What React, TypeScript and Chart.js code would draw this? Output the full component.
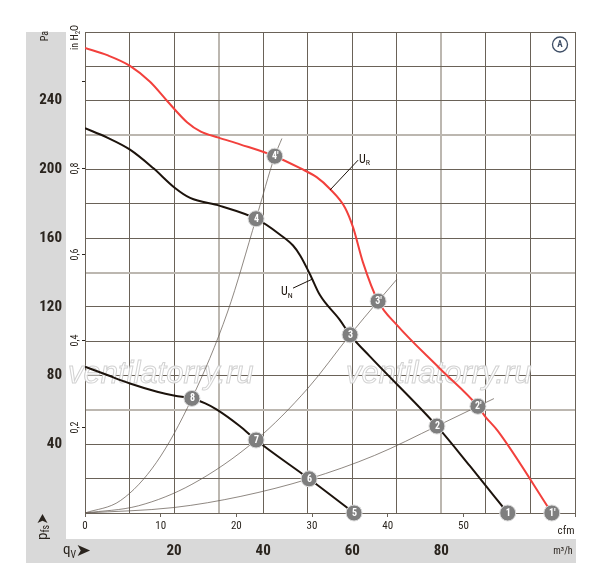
import React, { useEffect, useRef } from "react";
import { Chart, registerables } from "chart.js";

Chart.register(...registerables);

// ---- data (x in m³/h, y in Pa) ----
const UR_X = [0, 5, 10.1, 14.6, 18.4, 22.9, 26, 30, 34.8, 42.6, 48.3, 52, 55.0, 58.4, 60.2, 62.4, 65.8, 70.0, 79.7, 88.2, 89.8, 92.7, 104.8];
const UR_Y = [270.7, 266.5, 260.3, 251, 240, 227.5, 222, 218.5, 214.6, 207.7, 200.7, 195.5, 188.6, 177.6, 166.1, 145.9, 123.3, 109.5, 84, 62.1, 56.3, 47.7, 0];

const UN_X = [0, 5, 10.1, 15.3, 20.2, 23.6, 30.3, 38.4, 43.8, 46.7, 48.3, 50.5, 52.7, 57.2, 59.5, 64.0, 79.0, 86.4, 94.9];
const UN_Y = [224, 218.5, 211.5, 200.8, 189.2, 183.4, 178.8, 171.3, 162, 155.7, 149.9, 139, 127, 112.4, 103.7, 91, 50.6, 27.4, 0];

const LOW_X = [0, 5, 10.1, 16.2, 20.2, 24.0, 27, 29.6, 34.8, 38.4, 50.3, 60.4];
const LOW_Y = [85.2, 80.3, 75.4, 70.6, 68.3, 66.7, 63.8, 60.2, 50.5, 42.5, 19.9, 0];

const SYS1_X = [0, 8, 16, 24.0, 32, 38.4, 42.6, 44.2];
const SYS1_Y = [0, 7.3, 29.3, 66.7, 117, 171.3, 207.7, 218];
const SYS2_X = [0, 12, 24, 38.4, 50, 59.5, 65.8, 70.0];
const SYS2_Y = [0, 4.2, 16.7, 42.5, 72.5, 103.7, 123.3, 136];
const SYS3_X = [0, 20, 35, 50.3, 65, 79.0, 88.2, 91.8];
const SYS3_Y = [0, 3.2, 9.7, 19.9, 33.5, 50.6, 62.1, 66.6];

const MK_X = [94.9, 79.0, 59.5, 38.4, 104.8, 88.2, 65.8, 42.6, 60.4, 50.3, 38.4, 24.0];
const MK_Y = [0, 50.6, 103.7, 171.3, 0, 62.1, 123.3, 207.7, 0, 19.9, 42.5, 66.7];
const MK_L = ["1", "2", "3", "4", "1'", "2'", "3'", "4'", "5", "6", "7", "8"];

const PA_TICKS = [40, 80, 120, 160, 200, 240];
const M3H_TICKS = [20, 40, 60, 80];
const CFM_LABELS = [0, 10, 20, 30, 40, 50];
const INH2O_TICKS = [0.2, 0.4, 0.6, 0.8, 1.0];
const INH2O_LABELS = ["0,2", "0,4", "0,6", "0,8", ""];

const X_MAX = 110;
const Y_MAX = 280;
const CFM_MAX = 110 / 1.699;
const PA_PER_INH2O = 251.3;

const DARK = "#6a6258";
const LIGHT = "#bcb7b0";
const GRAY = "#d9d9d9";
const TXT = "#2a241e";
const RED = "#f2403c";
const BLK = "#1c130c";
const THIN = "#5e554c";
const NARROW = '"Liberation Sans Narrow", "Roboto Condensed", "DejaVu Sans Condensed", Roboto, sans-serif';

const pts = (xs: number[], ys: number[]) => xs.map((x, i) => ({ x, y: ys[i] }));

export default function App() {
  const ref = useRef<HTMLCanvasElement>(null);

  useEffect(() => {
    const canvas = ref.current!;

    const bg = {
      id: "bg",
      beforeDraw(chart: any) {
        const c = chart.ctx;
        const ca = chart.chartArea;
        const xs = chart.scales.x;
        c.save();
        c.fillStyle = "#fff";
        c.fillRect(0, 0, chart.width, chart.height);
        c.fillStyle = GRAY;
        c.fillRect(26, ca.top, ca.right + 1 - 26, xs.bottom - ca.top);
        c.fillStyle = "#fff";
        c.fillRect(66, ca.top, ca.right + 1 - 66, xs.top - ca.top);
        c.restore();
      },
    };

    const watermark = {
      id: "wm",
      beforeDatasetsDraw(chart: any) {
        const c = chart.ctx;
        c.save();
        c.font = 'italic 31px "Liberation Sans", Arial, sans-serif';
        c.textBaseline = "alphabetic";
        c.textAlign = "left";
        c.lineWidth = 1;
        c.strokeStyle = "#d2d2d2";
        c.fillStyle = "rgba(255,255,255,0.92)";
        const t = "ventilatorry.ru";
        for (const x0 of [68, 346]) {
          c.fillText(t, x0, 383);
          c.strokeText(t, x0, 383);
        }
        c.restore();
      },
    };

    const arrow = (c: CanvasRenderingContext2D, x0: number, x1: number, cy: number, hw: number) => {
      c.beginPath();
      c.moveTo(x0, cy - hw);
      c.lineTo(x1, cy);
      c.lineTo(x0, cy + hw);
      c.lineTo(x0 + (x1 - x0) * 0.25, cy);
      c.closePath();
      c.fill();
    };

    const texts = {
      id: "texts",
      afterDatasetsDraw(chart: any) {
        const c = chart.ctx;
        const xs = chart.scales.x;
        const ys = chart.scales.y;
        const ca = chart.chartArea;
        c.save();

        // marker labels
        const meta = chart.getDatasetMeta(0);
        c.fillStyle = "#fff";
        c.font = `bold 10px ${NARROW}`;
        c.textAlign = "center";
        c.textBaseline = "middle";
        meta.data.forEach((p: any, i: number) => {
          c.fillText(MK_L[i], p.x + 0.5, p.y + 0.5);
        });

        // in H2O ticks & labels
        c.strokeStyle = TXT;
        c.lineWidth = 1;
        c.fillStyle = TXT;
        c.font = `10px ${NARROW}`;
        INH2O_TICKS.forEach((v, i) => {
          const py = Math.round(ys.getPixelForValue(v * PA_PER_INH2O)) + 0.5;
          c.beginPath();
          c.moveTo(ca.left - 3, py);
          c.lineTo(ca.left, py);
          c.stroke();
          if (INH2O_LABELS[i]) {
            c.save();
            c.translate(75, py);
            c.rotate(-Math.PI / 2);
            c.textAlign = "center";
            c.textBaseline = "middle";
            c.fillText(INH2O_LABELS[i], 0, 0);
            c.restore();
          }
        });

        // "in H2O"
        c.save();
        c.translate(77.5, 50);
        c.rotate(-Math.PI / 2);
        c.textAlign = "left";
        c.textBaseline = "alphabetic";
        c.font = `10px ${NARROW}`;
        c.fillText("in H", 0, 0);
        let w = c.measureText("in H").width;
        c.font = `7px ${NARROW}`;
        c.fillText("2", w, 2);
        w += c.measureText("2").width;
        c.font = `10px ${NARROW}`;
        c.fillText("O", w, 0);
        c.restore();

        // "Pa"
        c.save();
        c.translate(45, 36);
        c.rotate(-Math.PI / 2);
        c.textAlign = "center";
        c.textBaseline = "middle";
        c.font = `10px ${NARROW}`;
        c.fillText("Pa", 0, 0);
        c.restore();

        // p_fs with arrow
        c.save();
        c.translate(46.5, 540);
        c.rotate(-Math.PI / 2);
        c.textAlign = "left";
        c.textBaseline = "alphabetic";
        c.font = `15px ${NARROW}`;
        c.fillText("p", 0, 0);
        let pw = c.measureText("p").width;
        c.font = `10px ${NARROW}`;
        c.fillText("fs", pw, 2.5);
        pw += c.measureText("fs").width;
        arrow(c, pw + 2, pw + 11, -4, 5);
        c.restore();

        // q_V with arrow
        c.save();
        c.textAlign = "left";
        c.textBaseline = "alphabetic";
        c.font = `15px ${NARROW}`;
        c.fillText("q", 63, 554);
        let qw = 63 + c.measureText("q").width;
        c.font = `10px ${NARROW}`;
        c.fillText("V", qw, 557.5);
        qw += c.measureText("V").width;
        arrow(c, qw + 1.5, qw + 14, 550.5, 5.5);
        c.restore();

        // units at right
        c.textAlign = "center";
        c.textBaseline = "middle";
        c.font = `11px ${NARROW}`;
        c.fillText("cfm", 566, 531);
        c.font = `10px ${NARROW}`;
        c.fillText("m³/h", 563, 551);

        // U_R / U_N annotations
        const line = (x0: number, y0: number, x1: number, y1: number) => {
          c.beginPath();
          c.moveTo(xs.getPixelForValue(x0), ys.getPixelForValue(y0));
          c.lineTo(xs.getPixelForValue(x1), ys.getPixelForValue(y1));
          c.stroke();
        };
        c.strokeStyle = BLK;
        c.lineWidth = 1;
        line(55.0, 188.0, 61.3, 205.4);
        line(46.7, 130.9, 51.0, 136.1);
        c.textAlign = "left";
        c.textBaseline = "alphabetic";
        c.fillStyle = BLK;
        let ux = xs.getPixelForValue(61.5);
        let uy = ys.getPixelForValue(203.8);
        c.font = `12px ${NARROW}`;
        c.fillText("U", ux, uy);
        ux += c.measureText("U").width;
        c.font = `8px ${NARROW}`;
        c.fillText("R", ux, uy + 2.5);
        ux = xs.getPixelForValue(44.0);
        uy = ys.getPixelForValue(126.8);
        c.font = `12px ${NARROW}`;
        c.fillText("U", ux, uy);
        ux += c.measureText("U").width;
        c.font = `8px ${NARROW}`;
        c.fillText("N", ux, uy + 2.5);

        // circled A
        c.strokeStyle = "#3e4e66";
        c.fillStyle = "#3e4e66";
        c.lineWidth = 1.3;
        c.beginPath();
        c.arc(560, 44.5, 7.5, 0, Math.PI * 2);
        c.stroke();
        c.font = `bold 9px ${NARROW}`;
        c.textAlign = "center";
        c.textBaseline = "middle";
        c.fillText("A", 560, 45);

        c.restore();
      },
    };

    const curve = (xs: number[], ys: number[], color: string, width: number, order: number) => ({
      data: pts(xs, ys),
      showLine: true,
      borderColor: color,
      borderWidth: width,
      pointRadius: 0,
      cubicInterpolationMode: "monotone",
      order,
    });

    const chart = new Chart(canvas, {
      type: "scatter",
      data: {
        datasets: [
          {
            data: pts(MK_X, MK_Y),
            showLine: false,
            pointRadius: 8,
            pointBackgroundColor: "#7e7e7e",
            pointBorderColor: "#dcdcdc",
            pointBorderWidth: 1,
            clip: false,
            order: 0,
          } as any,
          curve(UR_X, UR_Y, RED, 2, 1),
          curve(UN_X, UN_Y, BLK, 2, 1),
          curve(LOW_X, LOW_Y, BLK, 2, 1),
          curve(SYS1_X, SYS1_Y, THIN, 0.7, 2),
          curve(SYS2_X, SYS2_Y, THIN, 0.7, 2),
          curve(SYS3_X, SYS3_Y, THIN, 0.7, 2),
        ],
      },
      options: {
        responsive: false,
        animation: false,
        devicePixelRatio: 1,
        layout: { padding: { left: 0, right: 25, top: 26, bottom: 25 } },
        plugins: { legend: { display: false }, tooltip: { enabled: false } },
        events: [],
        scales: {
          x: {
            type: "linear",
            position: "bottom",
            weight: 2,
            min: 0,
            max: X_MAX,
            afterFit: (s: any) => {
              s.height = 24;
            },
            border: { display: false },
            grid: {
              drawTicks: false,
              color: (ctx: any) => ([30, 80].includes(ctx.tick?.value) ? LIGHT : DARK),
              lineWidth: (ctx: any) => ([30, 80].includes(ctx.tick?.value) ? 2 : 1),
            },
            ticks: {
              stepSize: 10,
              autoSkip: false,
              maxRotation: 0,
              minRotation: 0,
              padding: 3,
              color: TXT,
              font: { family: NARROW, size: 15, weight: "bold" },
              callback: (v: any) => (M3H_TICKS.includes(Number(v)) ? String(v) : ""),
            },
          },
          x2: {
            type: "linear",
            position: "bottom",
            weight: 1,
            min: 0,
            max: CFM_MAX,
            afterFit: (s: any) => {
              s.height = 26;
            },
            border: { display: false },
            grid: {
              drawOnChartArea: false,
              drawTicks: true,
              tickLength: 4,
              tickColor: DARK,
              color: DARK,
            },
            ticks: {
              stepSize: 10,
              autoSkip: false,
              maxRotation: 0,
              minRotation: 0,
              padding: 3,
              color: TXT,
              font: { family: NARROW, size: 11 },
              callback: (v: any) => (CFM_LABELS.includes(Number(v)) ? String(v) : ""),
            },
          },
          y: {
            type: "linear",
            position: "left",
            min: 0,
            max: Y_MAX,
            afterFit: (s: any) => {
              s.width = 85;
            },
            border: { display: true, color: DARK, width: 1 },
            grid: {
              drawTicks: false,
              color: (ctx: any) => ([60, 140, 220].includes(ctx.tick?.value) ? LIGHT : DARK),
              lineWidth: (ctx: any) => ([60, 140, 220].includes(ctx.tick?.value) ? 2 : 1),
            },
            ticks: {
              stepSize: 20,
              autoSkip: false,
              padding: 23,
              color: TXT,
              font: { family: NARROW, size: 15, weight: "bold" },
              callback: (v: any) => (PA_TICKS.includes(Number(v)) ? String(v) : ""),
            },
          },
        },
      } as any,
      plugins: [bg, watermark, texts],
    });

    return () => chart.destroy();
  }, []);

  return (
    <div style={{ position: "absolute", left: 0, top: 0, width: 600, height: 588 }}>
      <canvas ref={ref} width={600} height={588} style={{ display: "block" }} />
    </div>
  );
}
